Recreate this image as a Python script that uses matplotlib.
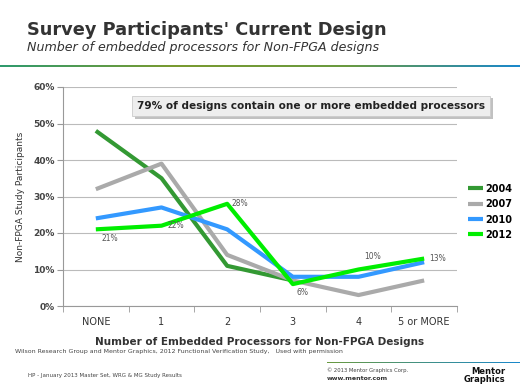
import numpy as np
import matplotlib
matplotlib.use('Agg')
import matplotlib.pyplot as plt
import matplotlib.patheffects as pe
from matplotlib.colors import LinearSegmentedColormap

categories = ['NONE', '1', '2', '3', '4', '5 or MORE']
y2004 = [48, 35, 11, 7]
y2007 = [32, 39, 14, 7, 3, 7]
y2010 = [24, 27, 21, 8, 8, 12]
y2012 = [21, 22, 28, 6, 10, 13]
labels2012 = ['21%', '22%', '28%', '6%', '10%', '13%']
yticks = [0, 10, 20, 30, 40, 50, 60]

plt.rcParams['font.family'] = ['DejaVu Sans']

fig = plt.figure(figsize=(5.2, 3.9), dpi=100)
fig.patch.set_facecolor('white')

# заголовок
fig.text(27 / 520, 1 - 30 / 390, "Survey Participants' Current Design", fontsize=12.8,
         fontweight='bold', color='#333333', va='center', ha='left')
fig.text(27 / 520, 1 - 48 / 390, 'Number of embedded processors for Non-FPGA designs', fontsize=9.1,
         style='italic', color='#333333', va='center', ha='left')

# градиентная линия под заголовком
cmap = LinearSegmentedColormap.from_list('hdr', ['#2f9a6e', '#7a9a30', '#6a9a40', '#1a88cc'])
axl = fig.add_axes([0, 1 - 67 / 390, 1, 2 / 390])
axl.imshow(np.linspace(0, 1, 256)[None, :], aspect='auto', cmap=cmap)
axl.axis('off')
axl2 = fig.add_axes([327 / 520, 1 - 363 / 390, 193 / 520, 1.5 / 390])
axl2.imshow(np.linspace(0, 1, 256)[None, :], aspect='auto',
            cmap=LinearSegmentedColormap.from_list('ft', ['#6a9a40', '#1a88cc']))
axl2.axis('off')

ax = fig.add_axes([63 / 520, 1 - 306 / 390, 394 / 520, 219 / 390])
x = np.arange(len(categories))
ax.plot(x[:len(y2004)], y2004, color='#339933', lw=3, label='2004', solid_capstyle='butt')
ax.plot(x, y2007, color='#aaaaaa', lw=3, label='2007', solid_capstyle='butt')
ax.plot(x, y2010, color='#3399ff', lw=3, label='2010', solid_capstyle='butt')
ax.plot(x, y2012, color='#00ee00', lw=3, label='2012', solid_capstyle='butt')

offsets = [(14, -9), (14, 0), (13, 0), (10, -8), (14, 13), (13, 0)]
for xi, yi, lab, off in zip(x, y2012, labels2012, offsets):
    ax.annotate(lab, (xi, yi), xytext=off, textcoords='offset pixels', fontsize=5.5,
                color='#555555', ha='center', va='center')

ax.set_xlim(-0.5, len(categories) - 0.5)
ax.set_ylim(0, 60)
ax.set_yticks(yticks)
ax.set_yticklabels([f'{v}%' for v in yticks], fontsize=6.5, fontweight='bold', color='#444444')
ax.set_xticks(x)
ax.set_xticklabels(categories, fontsize=7, color='#333333')
ax.set_xticks(np.arange(-0.5, len(categories), 1), minor=True)
ax.tick_params(axis='x', which='major', length=0, pad=8)
ax.tick_params(axis='x', which='minor', length=4, color='#999999')
ax.tick_params(axis='y', length=4, color='#999999', pad=2)
ax.grid(axis='y', color='#bbbbbb', lw=0.8)
ax.set_axisbelow(True)
for s in ['top', 'right']:
    ax.spines[s].set_visible(False)
ax.spines['left'].set_color('#999999')
ax.spines['bottom'].set_color('#999999')
ax.set_ylabel('Non-FPGA Study Participants', fontsize=6.5, color='#333333', labelpad=6)
ax.set_xlabel('Number of Embedded Processors for Non-FPGA Designs', fontsize=7.5,
              fontweight='bold', color='#333333', labelpad=7)

ax.legend(loc='center left', bbox_to_anchor=(1.005, 0.43), frameon=False,
          handlelength=1.6, handletextpad=0.2, labelspacing=0.55, prop={'weight': 'bold', 'size': 7})

t = ax.text(0.63, 54.8, '79% of designs contain one or more embedded processors', fontsize=7.6,
            fontweight='bold', color='#222222', va='center', ha='left', clip_on=False,
            bbox=dict(boxstyle='square,pad=0.5', facecolor='#eeeeee', edgecolor='#cccccc', lw=0.6))
t.get_bbox_patch().set_path_effects([pe.SimplePatchShadow(offset=(2, -2), shadow_rgbFace='#999999', alpha=0.6),
                                     pe.Normal()])

# подписи внизу
fig.text(15 / 520, 1 - 352 / 390,
         'Wilson Research Group and Mentor Graphics, 2012 Functional Verification Study,   Used with permission',
         fontsize=4.5, color='#444444', va='center')
fig.text(28 / 520, 1 - 376 / 390, 'HP - January 2013 Master Set, WRG & MG Study Results',
         fontsize=4, color='#444444', va='center')
fig.text(327 / 520, 1 - 370 / 390, '© 2013 Mentor Graphics Corp.', fontsize=3.8, color='#444444', va='center')
fig.text(327 / 520, 1 - 379 / 390, 'www.mentor.com', fontsize=4.5, fontweight='bold', color='#333333', va='center')
fig.text(488 / 520, 1 - 371 / 390, 'Mentor', fontsize=6, fontweight='bold', color='#111111',
         va='center', ha='center')
fig.text(484 / 520, 1 - 379 / 390, 'Graphics', fontsize=6, fontweight='bold', color='#111111',
         va='center', ha='center')

fig.savefig('out.png', dpi=100)
